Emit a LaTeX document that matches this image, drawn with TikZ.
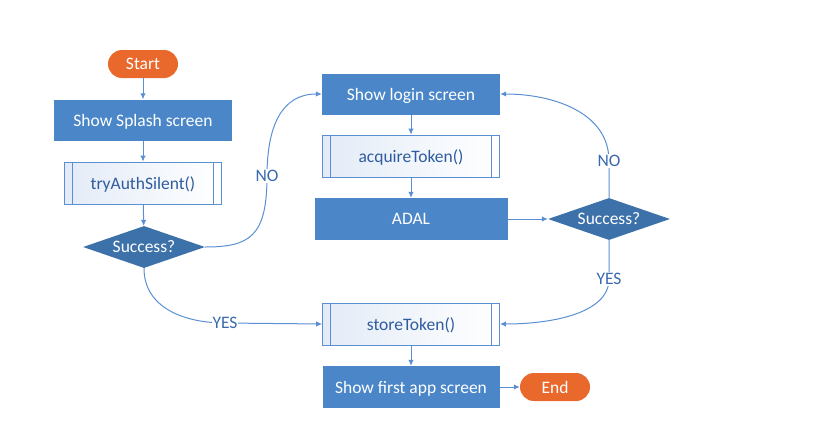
\documentclass[tikz,border=0pt]{standalone}
\usepackage{fontspec}
\setmainfont{Carlito}
\usepackage{xcolor}
\usepackage{tikz}
\usetikzlibrary{arrows.meta,shapes.geometric,positioning}
\definecolor{boxblue}{HTML}{4A86C8}
\definecolor{decblue}{HTML}{3D71AA}
\definecolor{lineblue}{HTML}{5B8FD3}
\definecolor{txtblue}{HTML}{2F5C9E}
\definecolor{lblblue}{HTML}{3A6AAE}
\definecolor{subfill}{HTML}{E3EBF7}
\definecolor{termorange}{HTML}{E9692C}

\begin{document}
\begin{tikzpicture}[x=1pt,y=-1pt,>={Latex[length=6pt,width=5.5pt]},
  every node/.style={font=\fontsize{17.5}{20}\selectfont, inner sep=0pt, text depth=0pt},
  terminal/.style={fill=termorange, rounded corners=14pt, minimum width=70pt, minimum height=28pt, text=white},
  process/.style={fill=boxblue, minimum width=177pt, minimum height=41pt, text=white},
  subproc/.style={draw=lineblue, line width=0.8pt, left color=subfill, right color=white,
    minimum width=177pt, minimum height=42pt, text=txtblue,
    path picture={\draw[lineblue, line width=0.8pt]
      ([xshift=8pt]path picture bounding box.north west) -- ([xshift=8pt]path picture bounding box.south west)
      ([xshift=-8pt]path picture bounding box.north east) -- ([xshift=-8pt]path picture bounding box.south east);}},
  decision/.style={diamond, fill=decblue, aspect=2.9, minimum width=122pt, minimum height=42pt, text=white},
  flow/.style={draw=lineblue, line width=1pt, ->},
  lbl/.style={fill=white, text=lblblue, inner sep=1pt}]
  \useasboundingbox (0,0) rectangle (838,437);
  % Left column
  \node[terminal] (start) at (143,64) {Start};
  \node[process, minimum width=178pt] (splash) at (143,120) {Show Splash screen};
  \node[subproc, minimum width=157pt] (silent) at (143,183) {tryAuthSilent()};
  \node[decision] (okA) at (144,247) {Success?};
  % Middle column
  \node[process, minimum width=178pt] (login) at (411,94) {Show login screen};
  \node[subproc] (acquire) at (411,156) {acquireToken()};
  \node[process, minimum width=193pt, minimum height=42pt] (adal) at (411,219) {ADAL};
  \node[decision] (okB) at (609,219) {Success?};
  \node[subproc] (store) at (411,324) {storeToken()};
  \node[process, minimum height=42pt] (first) at (411,387) {Show first app screen};
  \node[terminal] (finish) at (555,387) {End};
  % Label points
  \coordinate (noA) at (267,176);
  \coordinate (yesA) at (225,323);
  \coordinate (noB) at (609,161);
  \coordinate (yesB) at (609,279);
  % Straight connectors
  \draw[flow] (start) -- (splash);
  \draw[flow] (splash) -- (silent);
  \draw[flow] (silent) -- (okA);
  \draw[flow] (login) -- (acquire);
  \draw[flow] (acquire) -- (adal);
  \draw[flow] (adal) -- (okB);
  \draw[flow] (store) -- (first);
  \draw[flow] (first) -- (finish);
  % Curved connectors
  \draw[flow] (okA.east) .. controls +(45,0) and +(0,60) .. (noA)
    .. controls +(0,-50) and +(-40,0) .. (login.west);
  \draw[flow] (okA.south) .. controls +(0,40) and +(-40,0) .. (yesA) -- (store.west);
  \draw[flow] (okB.north) -- (noB) .. controls +(0,-50) and +(50,0) .. (login.east);
  \draw[flow] (okB.south) -- (yesB) .. controls +(0,35) and +(50,0) .. (store.east);
  % Branch labels
  \node[lbl] at (noA) {NO};
  \node[lbl] at (yesA) {YES};
  \node[lbl] at (noB) {NO};
  \node[lbl] at (yesB) {YES};
\end{tikzpicture}
\end{document}
